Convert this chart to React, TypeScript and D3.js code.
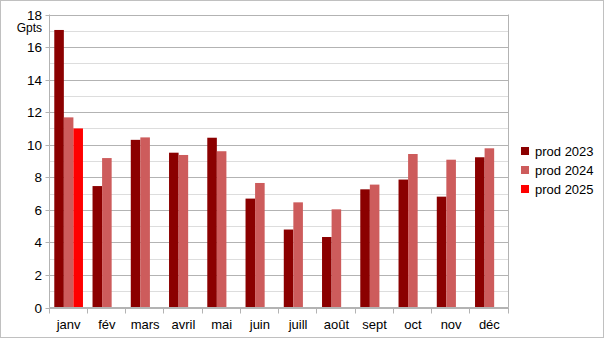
import React from "react";
import * as d3 from "d3";

const months = ["janv", "fév", "mars", "avril", "mai", "juin", "juill", "août", "sept", "oct", "nov", "déc"];
const seriesNames = ["prod 2023", "prod 2024", "prod 2025"];
const prod2023 = [17.05, 7.46, 10.3, 9.51, 10.43, 6.69, 4.79, 4.33, 7.26, 7.86, 6.81, 9.23];
const prod2024 = [11.68, 9.18, 10.45, 9.37, 9.6, 7.65, 6.46, 6.03, 7.55, 9.43, 9.08, 9.78];
const prod2025 = [11.0, null, null, null, null, null, null, null, null, null, null, null];
const colors = ["#8b0000", "#cd5c5c", "#ff0000"];
const yTicks = [0, 2, 4, 6, 8, 10, 12, 14, 16, 18];
const yMinor = [1, 3, 5, 7, 9, 11, 13, 15, 17];

const W = 605;
const H = 340;
const left = 49.5;
const right = 508.5;
const top = 14.5;
const bottom = 307.5;

export default function App() {
  const series = [prod2023, prod2024, prod2025];
  const x = d3.scaleBand<string>().domain(months).range([left, right]).paddingInner(0).paddingOuter(0);
  const xs = d3
    .scaleBand<string>()
    .domain(seriesNames)
    .range([0, x.bandwidth()])
    .paddingInner(0)
    .paddingOuter(0.5);
  const y = d3.scaleLinear().domain([0, 18]).range([bottom, top]);
  const font = "'Liberation Sans', Arial, sans-serif";
  const boundaries = months.map((m) => x(m) as number).concat([right]);

  return (
    <svg
      width={W}
      height={H}
      style={{ position: "absolute", left: 0, top: 0, background: "#fff" }}
      fontFamily={font}
    >
      <rect x={0.5} y={0.5} width={603} height={337} fill="#fff" stroke="#c0c0c0" />
      {yMinor.map((t) => (
        <line key={"m" + t} x1={left} x2={right} y1={Math.round(y(t)) + 0.5} y2={Math.round(y(t)) + 0.5} stroke="#dddddd" />
      ))}
      {yTicks.map((t) => (
        <line key={"g" + t} x1={left - 4} x2={right} y1={Math.round(y(t)) + 0.5} y2={Math.round(y(t)) + 0.5} stroke="#b3b3b3" />
      ))}
      <line x1={right} x2={right} y1={top} y2={bottom} stroke="#b3b3b3" />
      {series.map((vals, si) =>
        vals.map((v, i) =>
          v == null ? null : (
            <rect
              key={si + "-" + i}
              x={(x(months[i]) as number) + (xs(seriesNames[si]) as number)}
              y={y(v)}
              width={xs.bandwidth()}
              height={bottom - y(v)}
              fill={colors[si]}
            />
          )
        )
      )}
      <line x1={left} x2={left} y1={top} y2={bottom} stroke="#b3b3b3" />
      <line x1={left} x2={right} y1={bottom} y2={bottom} stroke="#b3b3b3" />
      {boundaries.map((b, i) => (
        <line key={"t" + i} x1={Math.round(b) - 0.5} x2={Math.round(b) - 0.5} y1={bottom} y2={bottom + 6} stroke="#b3b3b3" />
      ))}
      {yTicks.map((t) => (
        <text key={"yl" + t} x={42} y={y(t) + 5} textAnchor="end" fontSize={13.5} fill="#000">
          {t}
        </text>
      ))}
      <text x={42} y={32} textAnchor="end" fontSize={12} fill="#000">
        Gpts
      </text>
      {months.map((m) => (
        <text
          key={"xl" + m}
          x={(x(m) as number) + x.bandwidth() / 2}
          y={329}
          textAnchor="middle"
          fontSize={13}
          fill="#000"
        >
          {m}
        </text>
      ))}
      {seriesNames.map((s, i) => (
        <g key={"lg" + s} transform={`translate(0, ${i * 19})`}>
          <rect x={521} y={147} width={8} height={8} fill={colors[i]} />
          <text x={535} y={155.5} fontSize={13} fill="#000">
            {s}
          </text>
        </g>
      ))}
    </svg>
  );
}
